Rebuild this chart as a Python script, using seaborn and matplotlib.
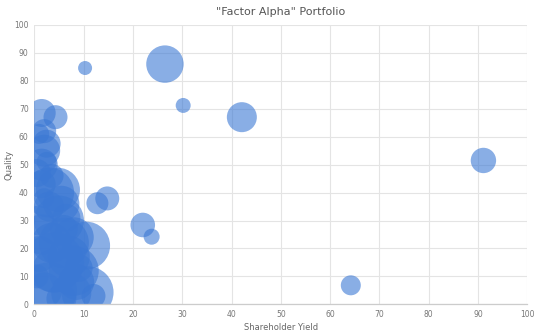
import matplotlib
matplotlib.use("Agg")
import matplotlib.pyplot as plt
import seaborn as sns
import pandas as pd

# Data: shareholder yield (x), quality (y), bubble size (relative weight)
shareholder_yield = [
    10.3, 26.5, 30.2, 42.1, 91.1, 64.2, 22.0, 23.8, 12.8, 14.8,
    1.5, 4.3, 2.5, 2.5, 1.0, 3.5, 4.8, 1.5, 3.0, 6.5,
    1.0, 10.5, 8.0, 7.0, 3.5, 1.0, 4.0, 10.8, 8.5, 12.0,
    2.0, 5.5, 0.5, 6.0, 2.0, 9.0, 3.0, 5.0, 4.0, 3.0,
    8.0, 6.0, 1.5, 2.0, 7.5, 5.5, 0.5, 1.5, 2.0,
]
quality = [
    84.6, 86.0, 71.2, 67.0, 51.5, 6.8, 28.4, 24.2, 36.2, 37.9,
    68.5, 67.0, 57.5, 51.0, 61.0, 46.0, 41.0, 43.0, 35.0, 31.0,
    30.0, 21.0, 24.0, 17.0, 22.0, 18.0, 12.0, 4.3, 8.0, 3.0,
    5.0, 2.0, 10.0, 27.0, 38.0, 13.0, 40.0, 30.0, 15.0, 5.0,
    12.0, 22.0, 50.0, 55.0, 4.0, 36.0, 47.0, 25.0, 62.0,
]
bubble_size = [
    49, 350, 56, 225, 161, 100, 151, 64, 121, 144,
    196, 144, 196, 100, 100, 144, 484, 196, 225, 196,
    225, 576, 400, 441, 400, 324, 484, 676, 324, 144,
    324, 225, 144, 196, 100, 196, 625, 625, 900, 784,
    625, 625, 256, 256, 400, 324, 196, 400, 144,
]

df = pd.DataFrame({"Shareholder Yield": shareholder_yield,
                   "Quality": quality,
                   "size": bubble_size})

sns.set_theme(style="white")
plt.rcParams["font.family"] = ["DejaVu Sans"]

fig = plt.figure(figsize=(5.4, 3.35), dpi=100)
ax = fig.add_axes([34.3 / 540, 1 - 304.3 / 335, (527.3 - 34.3) / 540, (304.3 - 25) / 335])

maxv = max(bubble_size)
k = (2 * 0.72) ** 2
sns.scatterplot(data=df, x="Shareholder Yield", y="Quality", size="size",
                sizes=(0, k * maxv), size_norm=(0, maxv),
                color="#3b78d4", alpha=0.6, linewidth=0, legend=False,
                ax=ax, zorder=3)

ax.set_xlim(0, 100)
ax.set_ylim(0, 100)
ax.set_xticks(range(0, 101, 10))
ax.set_yticks(range(0, 101, 10))
ax.grid(True, color="#e4e4e4", linewidth=0.8, zorder=0)
ax.set_axisbelow(True)
for side in ["top", "right", "left"]:
    ax.spines[side].set_visible(False)
ax.spines["bottom"].set_color("#cccccc")
ax.spines["bottom"].set_linewidth(0.9)
ax.spines["bottom"].set_zorder(4)
ax.tick_params(axis="both", length=0, labelsize=5.5, labelcolor="#777777")
ax.tick_params(axis="x", pad=4)
ax.tick_params(axis="y", pad=4)
ax.set_xlabel("Shareholder Yield", fontsize=6, color="#666666", labelpad=3)
ax.set_ylabel("Quality", fontsize=6, color="#666666")
ax.yaxis.set_label_coords(-21 / 493, 0.5)
ax.set_title('"Factor Alpha" Portfolio', fontsize=8, color="#555555", pad=7)

fig.savefig("out.png", dpi=100)
